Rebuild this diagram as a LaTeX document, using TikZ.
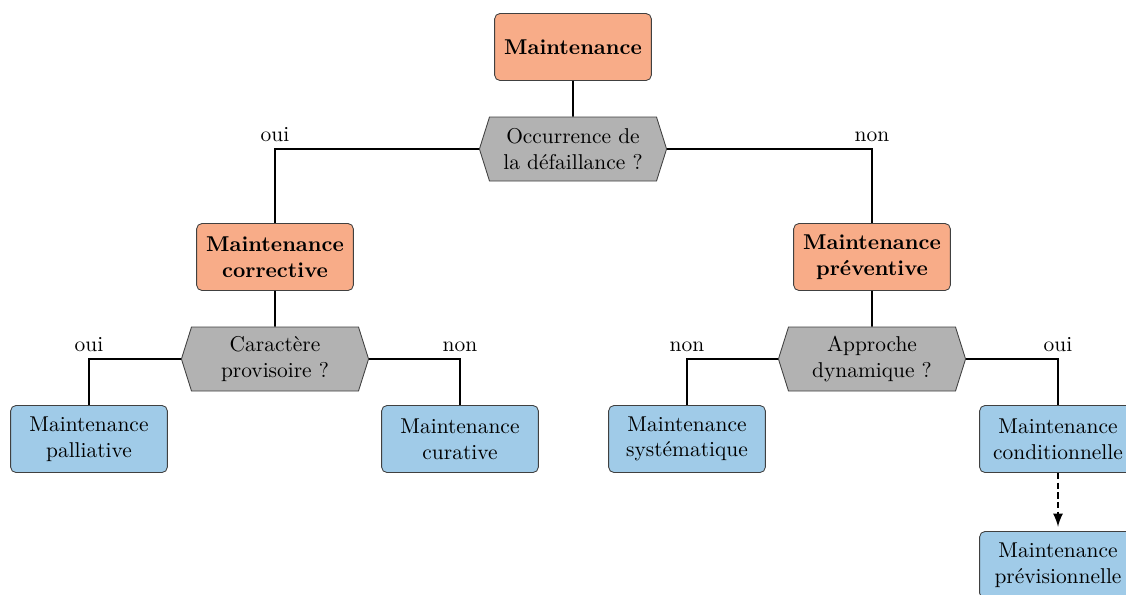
\documentclass[tikz,border=0pt]{standalone}
\usepackage{tikz}
\usetikzlibrary{shapes.symbols}
\usetikzlibrary{arrows}

\definecolor{saumon}{HTML}{F8AC88}
\definecolor{bleuclair}{HTML}{A0CBE8}

\begin{document}
\begin{tikzpicture}[x=0.0164cm,y=-0.0164cm,
  famille/.style={draw=black!75, fill=saumon, rounded corners=2.5pt,
    minimum width=2.57cm, minimum height=1.1cm, align=center, font=\bfseries},
  feuille/.style={draw=black!75, fill=bleuclair, rounded corners=2.5pt,
    minimum width=2.57cm, minimum height=1.1cm, align=center},
  question/.style={signal, signal to=east and west, signal pointer angle=145,
    draw=black!75, fill=black!30, minimum width=3.07cm, minimum height=1.05cm,
    align=center, inner sep=1pt},
  lien/.style={line width=0.9pt},
  choix/.style={above, inner sep=3pt}]

  \useasboundingbox (0,0) rectangle (1126,594);

  % racine
  \node[famille] (maint) at (573,47) {Maintenance};
  \node[question] (defaillance) at (573,149) {Occurrence de\\la défaillance~?};

  % deux familles
  \node[famille] (corrective) at (275,257) {Maintenance\\corrective};
  \node[famille] (preventive) at (872,257) {Maintenance\\préventive};

  \node[question] (provisoire) at (275,359) {Caractère\\provisoire~?};
  \node[question] (dynamique) at (872,359) {Approche\\dynamique~?};

  % feuilles
  \node[feuille] (palliative) at (89,439) {Maintenance\\palliative};
  \node[feuille] (curative) at (460,439) {Maintenance\\curative};
  \node[feuille] (systematique) at (687,439) {Maintenance\\systématique};
  \node[feuille] (conditionnelle) at (1058,439) {Maintenance\\conditionnelle};
  \node[feuille] (previsionnelle) at (1058,565) {Maintenance\\prévisionnelle};

  % liens
  \draw[lien] (maint) -- (defaillance);
  \draw[lien] (defaillance.west) -| node[choix, pos=0.5] {oui} (corrective);
  \draw[lien] (defaillance.east) -| node[choix, pos=0.5] {non} (preventive);

  \draw[lien] (corrective) -- (provisoire);
  \draw[lien] (provisoire.west) -| node[choix, pos=0.5] {oui} (palliative);
  \draw[lien] (provisoire.east) -| node[choix, pos=0.5] {non} (curative);

  \draw[lien] (preventive) -- (dynamique);
  \draw[lien] (dynamique.west) -| node[choix, pos=0.5] {non} (systematique);
  \draw[lien] (dynamique.east) -| node[choix, pos=0.5] {oui} (conditionnelle);

  \draw[line width=1.1pt, dash pattern=on 3pt off 1.5pt, -latex, shorten >=2pt]
    (conditionnelle) -- (previsionnelle);

\end{tikzpicture}
\end{document}
